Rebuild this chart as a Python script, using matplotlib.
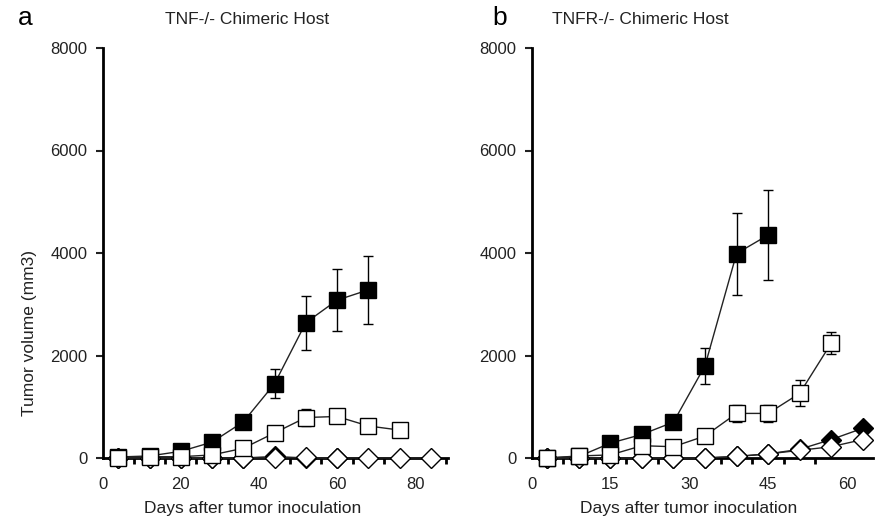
import numpy as np
import matplotlib
matplotlib.use("Agg")
import matplotlib.pyplot as plt

plt.rcParams["font.family"] = ["Liberation Sans", "DejaVu Sans"]

# Panel a: TNF-/- chimeric host
a_days = [4, 12, 20, 28, 36, 44, 52, 60, 68, 76, 84]
a_filled_sq = [20, 40, 130, 310, 705, 1450, 2640, 3080, 3280]
a_filled_sq_err = [0, 0, 0, 40, 100, 285, 530, 600, 660]
a_open_sq = [0, 25, 25, 60, 190, 490, 790, 810, 625, 545]
a_open_sq_err = [0, 0, 0, 0, 0, 0, 170, 110, 0, 0]
a_filled_dia = [0, 0, 0, 0, 0, 30, 0, 0]
a_open_dia = [0, 0, 0, 0, 0, 0, 10, 0, 0, 0, 0]

# Panel b: TNFR-/- chimeric host
b_days = [3, 9, 15, 21, 27, 33, 39, 45, 51, 57, 63]
b_filled_sq = [0, 30, 290, 460, 700, 1800, 3990, 4350]
b_filled_sq_err = [0, 0, 0, 0, 0, 350, 800, 870]
b_open_sq = [0, 40, 60, 240, 220, 430, 870, 870, 1260, 2240]
b_open_sq_err = [0, 0, 0, 0, 0, 0, 160, 160, 255, 220]
b_filled_dia = [0, 0, 0, 0, 0, 0, 30, 80, 170, 360, 580]
b_open_dia = [0, 0, 0, 0, 0, 0, 30, 80, 150, 220, 360]

W, H = 877, 523
fig = plt.figure(figsize=(W / 100, H / 100), dpi=100)


def px_axes(x0, x1, y0, y1):
    return fig.add_axes([x0 / W, 1 - y1 / H, (x1 - x0) / W, (y1 - y0) / H])


def series(ax, days, vals, err, marker, face, ms, z):
    n = len(vals)
    ax.errorbar(days[:n], vals, yerr=err, fmt=marker + "-", color="#222222",
                lw=1.0, ms=ms, mfc=face, mec="black", mew=1.0,
                ecolor="black", elinewidth=1.0, capsize=3.5, capthick=1.0,
                clip_on=False, zorder=z)


def style(ax, xmax, labels, minor):
    ax.set_xlim(0, xmax)
    ax.set_ylim(0, 8000)
    for s in ["top", "right"]:
        ax.spines[s].set_visible(False)
    for s in ["left", "bottom"]:
        ax.spines[s].set_linewidth(2)
    ax.set_yticks([0, 2000, 4000, 6000, 8000])
    ax.set_xticks(labels)
    ax.set_xticks(minor, minor=True)
    ax.tick_params(axis="y", direction="out", length=5, width=1.5,
                   labelsize=12, pad=6, colors="#222222")
    ax.tick_params(axis="x", which="major", length=0, pad=14,
                   labelsize=12, colors="#222222")
    ax.tick_params(axis="x", which="minor", direction="out", length=4,
                   width=2)


ax_a = px_axes(102.7, 448, 48, 458)
series(ax_a, a_days, a_filled_dia, None, "D", "black", 10, 3)
series(ax_a, a_days, a_open_dia, None, "D", "white", 10, 4)
series(ax_a, a_days, a_filled_sq, a_filled_sq_err, "s", "black", 11, 5)
series(ax_a, a_days, a_open_sq, a_open_sq_err, "s", "white", 11, 6)
style(ax_a, 88.4, [0, 20, 40, 60, 80], np.arange(8, 89, 8))

ax_b = px_axes(531.5, 873, 48, 458)
series(ax_b, b_days, b_filled_dia, None, "D", "black", 10, 3)
series(ax_b, b_days, b_open_dia, None, "D", "white", 10, 4)
series(ax_b, b_days, b_filled_sq, b_filled_sq_err, "s", "black", 11, 5)
series(ax_b, b_days, b_open_sq, b_open_sq_err, "s", "white", 11, 6)
style(ax_b, 64.95, [0, 15, 30, 45, 60], np.arange(6, 64, 6))

txt = dict(color="#222222", fontsize=12.5)
fig.text(18 / W, 1 - 18 / H, "a", fontsize=19, va="center", ha="left")
fig.text(492 / W, 1 - 18 / H, "b", fontsize=19, va="center", ha="left")
fig.text(247 / W, 1 - 20 / H, "TNF-/- Chimeric Host", ha="center",
         va="center", **txt)
fig.text(640 / W, 1 - 20 / H, "TNFR-/- Chimeric Host", ha="center",
         va="center", **txt)
fig.text(253 / W, 1 - 508 / H, "Days after tumor inoculation", ha="center",
         va="center", **txt)
fig.text(689 / W, 1 - 508 / H, "Days after tumor inoculation", ha="center",
         va="center", **txt)
fig.text(30 / W, 1 - 333 / H, "Tumor volume (mm3)", rotation=90,
         ha="center", va="center", **txt)

fig.savefig("out.png", dpi=100)
